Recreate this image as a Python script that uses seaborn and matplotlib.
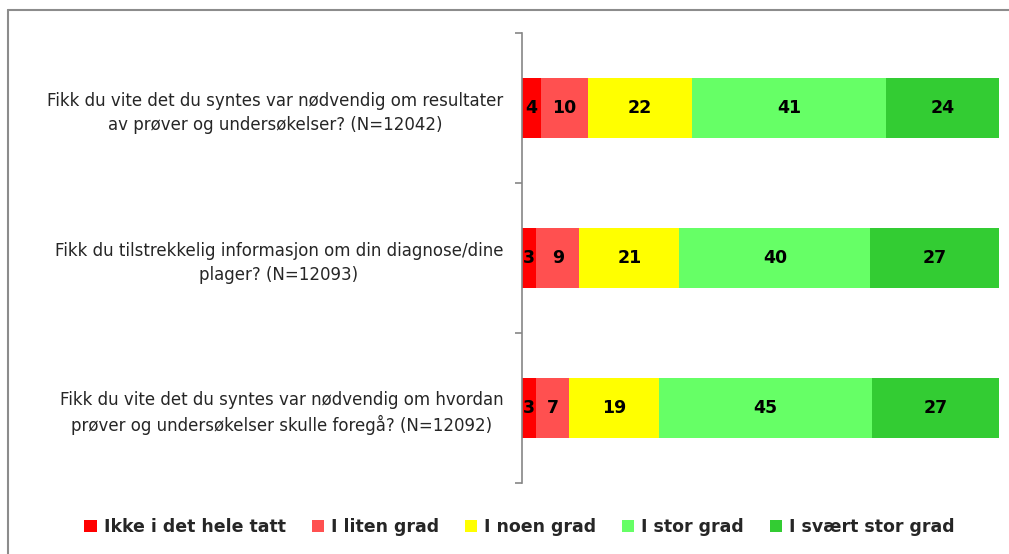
import numpy as np
import pandas as pd
import matplotlib
matplotlib.use("Agg")
import matplotlib.pyplot as plt
import seaborn as sns
from matplotlib.patches import Patch

questions = [
    "Fikk du vite det du syntes var nødvendig om resultater\nav prøver og undersøkelser? (N=12042)",
    "Fikk du tilstrekkelig informasjon om din diagnose/dine\nplager? (N=12093)",
    "Fikk du vite det du syntes var nødvendig om hvordan\nprøver og undersøkelser skulle foregå? (N=12092)",
]
series = ["Ikke i det hele tatt", "I liten grad", "I noen grad", "I stor grad", "I svært stor grad"]
ikke = [4, 3, 3]
liten = [10, 9, 7]
noen = [22, 21, 19]
stor = [41, 40, 45]
svaert = [24, 27, 27]
colors = ["#FF0000", "#FF5050", "#FFFF00", "#66FF66", "#33CC33"]

sns.set_theme(style="white")
plt.rcParams["font.family"] = ["DejaVu Sans"]

vals = np.array([ikke, liten, noen, stor, svaert], dtype=float)  # series x questions
pct = vals / vals.sum(axis=0) * 100  # 100% stacked
cum = np.cumsum(pct, axis=0)

fig = plt.figure(figsize=(10.09, 5.54), dpi=100)
ax = fig.add_axes([0.5174, 0.1282, 0.4727, 0.8122])

for i in range(len(series) - 1, -1, -1):
    df = pd.DataFrame({"q": questions, "v": cum[i]})
    sns.barplot(data=df, y="q", x="v", orient="h", color=colors[i], width=0.4,
                saturation=1, ax=ax, order=questions, linewidth=0, edgecolor="none")

for i in range(len(series)):
    left = cum[i] - pct[i]
    for j in range(len(questions)):
        ax.text(float(left[j] + pct[i][j] / 2), j, f"{int(vals[i][j])}",
                ha="center", va="center", fontsize=12.5, fontweight="bold", color="black")

ax.set_xlim(0, 100)
ax.set_ylim(2.5, -0.5)
ax.set_xlabel("")
ax.set_ylabel("")
ax.set_xticks([])
for s in ["top", "right", "bottom"]:
    ax.spines[s].set_visible(False)
ax.spines["left"].set_color("#868686")
ax.spines["left"].set_linewidth(1.2)
ax.tick_params(axis="y", which="major", length=0, pad=13.5, labelsize=12, labelcolor="#262626")
ax.set_yticks([-0.5, 0.5, 1.5, 2.5], minor=True)
ax.tick_params(axis="y", which="minor", length=5, width=1.2, color="#868686", direction="out", left=True)
for lbl in ax.get_yticklabels():
    lbl.set_multialignment("center")
    lbl.set_linespacing(1.4)

handles = [Patch(facecolor=c, edgecolor="none") for c in colors]
fig.legend(handles, series, loc="center", bbox_to_anchor=(0.515, 0.049), ncol=5, frameon=False,
           prop={"size": 12.5, "weight": "bold"}, handlelength=0.7, handleheight=0.7,
           handletextpad=0.4, columnspacing=1.5, labelcolor="#262626")

# outer chart frame (left and top lines)
fig.add_artist(plt.Line2D([0.0079, 0.0079], [0, 1 - 10 / 554], transform=fig.transFigure, color="#8c8c8c", lw=1.5))
fig.add_artist(plt.Line2D([0.0079, 1], [1 - 10 / 554, 1 - 10 / 554], transform=fig.transFigure, color="#8c8c8c", lw=1.5))

fig.savefig("out.png", dpi=100, facecolor="white")
